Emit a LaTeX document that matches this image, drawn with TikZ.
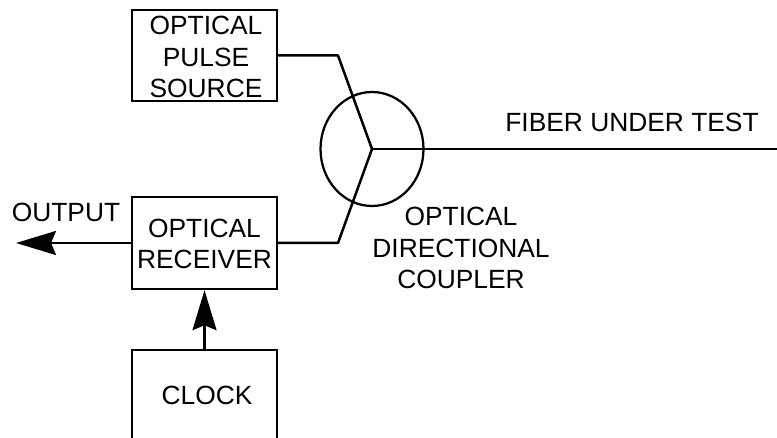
\documentclass[tikz,border=0pt]{standalone}
\usepackage{fontspec}
\setmainfont{Liberation Sans}
\usetikzlibrary{arrows.meta, shapes.geometric}
\tikzset{
    blockbox/.style={draw, line width=0.05cm, minimum width=2.9cm, inner sep=0pt, align=center},
    wire/.style={line width=0.05cm, line join=round},
    bigarrow/.style={wire, -{Stealth[length=0.8cm, width=0.48cm, inset=0.1cm]}},
    labeltext/.style={inner sep=0pt, align=center}
}
\begin{document}
\begin{tikzpicture}[x=0.02cm, y=-0.02cm, font=\fontsize{15pt}{18.1pt}\selectfont]
    \useasboundingbox (0,0) rectangle (777,438);
    \clip (0,0) rectangle (777,438);

    % Blocks
    \node[blockbox, minimum height=1.82cm] (source) at (204.5,55.5) {};
    \node[blockbox, minimum height=1.84cm] (receiver) at (204.5,243) {};
    \node[blockbox, minimum height=2.4cm] (clock) at (204.5,410) {};
    \node[labeltext] (sourcetext) at (206,57) {OPTICAL\\PULSE\\SOURCE};
    \node[labeltext] (receivertext) at (204.5,244) {OPTICAL\\RECEIVER};
    \node[labeltext] (clocktext) at (207,395) {CLOCK};

    % Coupler
    \node[draw, ellipse, line width=0.045cm, minimum width=2.06cm, minimum height=2.28cm, inner sep=0pt] (coupler) at (372,149) {};
    \coordinate (hub) at (372,149);
    \coordinate (upperbend) at (338,55.5);
    \coordinate (lowerbend) at (338,243);
    \coordinate (fiberend) at (777,149);
    \coordinate (outputend) at (16,243);
    \draw[wire] (source.east) -- (upperbend) -- (hub) -- (lowerbend) -- (receiver.east);
    \draw[wire] (hub) -- (fiberend);

    % Arrows
    \draw[bigarrow] (receiver.west) -- (outputend);
    \draw[bigarrow] (clock.north) -- (receiver.south);

    % Labels
    \node[labeltext] (fibertext) at (632,122) {FIBER UNDER TEST};
    \node[labeltext] (couplertext) at (461,248) {OPTICAL\\DIRECTIONAL\\COUPLER};
    \node[labeltext] (outputtext) at (66,212) {OUTPUT};
\end{tikzpicture}
\end{document}
